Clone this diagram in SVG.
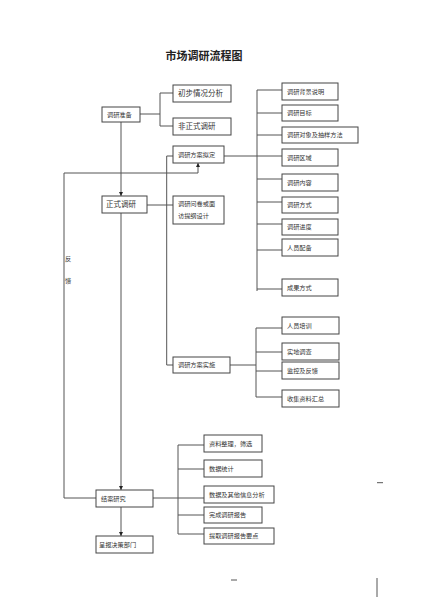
<svg xmlns="http://www.w3.org/2000/svg" width="423" height="600" viewBox="0 0 423 600">
<style>
.box{fill:#fff;stroke:#444;stroke-width:1}
.t{font-family:"Noto Sans CJK SC",sans-serif;font-size:6.2px;fill:#333}
.tl{font-family:"Noto Sans CJK SC",sans-serif;font-size:7.5px;fill:#333}
.ln{fill:none;stroke:#555;stroke-width:1}
</style>
<defs>
<marker id="ah" viewBox="0 0 8 8" refX="8" refY="4" markerWidth="4" markerHeight="4" orient="auto" markerUnits="userSpaceOnUse">
<path d="M0,0 L8,4 L0,8 Z" fill="#222"/>
</marker>
</defs>
<rect width="423" height="600" fill="#fff"/>
<text x="204" y="60" text-anchor="middle" font-family="'Noto Sans CJK SC',sans-serif" font-size="11" font-weight="bold" fill="#222">市场调研流程图</text>

<g id="connectors">
<path class="ln" d="M140,114 H160 M160,93 V126 M160,93 H173 M160,126 H173"/>
<path class="ln" d="M121,122 V196" marker-end="url(#ah)"/>
<path class="ln" d="M121,213 V490" marker-end="url(#ah)"/>
<path class="ln" d="M121,507 V536" marker-end="url(#ah)"/>
<path class="ln" d="M96,498 H64 V173 H198 V163" marker-end="url(#ah)"/>
<path class="ln" d="M147,205 H173"/>
<path class="ln" d="M173,156 H166.7 V365 H173"/>
<path class="ln" d="M224,156 H282 M257,90 V291 M257,90 H282 M257,113 H282 M257,135 H282 M257,179 H282 M257,202 H282 M257,224 H282 M257,250 H282 M257,289 H282"/>
<path class="ln" d="M230,365 H256 M256,328 V397 M256,328 H282 M256,352 H282 M256,371 H282 M256,397 H282"/>
<path class="ln" d="M153,498 H178 M178,445 V534 M178,445 H204 M178,469 H204 M178,498 H204 M178,515 H204 M178,534 H204"/>
</g>

<g id="n-zhunbei"><rect class="box" x="102" y="107" width="38" height="15"/><text class="t" x="107" y="116.8">调研准备</text></g>
<g id="n-chubu"><rect class="box" x="173" y="85" width="58" height="17"/><text class="tl" x="178" y="96.2">初步情况分析</text></g>
<g id="n-feizhengshi"><rect class="box" x="173" y="118" width="58" height="17"/><text class="tl" x="178" y="129.2">非正式调研</text></g>

<g id="n-beijing"><rect class="box" x="282" y="83" width="56" height="17"/><text class="t" x="287" y="93.8">调研背景说明</text></g>
<g id="n-mubiao"><rect class="box" x="282" y="105" width="56" height="16"/><text class="t" x="287" y="115.3">调研目标</text></g>
<g id="n-duixiang"><rect class="box" x="282" y="127" width="76" height="16"/><text class="t" x="287" y="137.3">调研对象及抽样方法</text></g>
<g id="n-quyu"><rect class="box" x="282" y="149" width="56" height="17"/><text class="t" x="287" y="159.8">调研区域</text></g>
<g id="n-neirong"><rect class="box" x="282" y="174" width="56" height="17"/><text class="t" x="287" y="184.8">调研内容</text></g>
<g id="n-fangshi"><rect class="box" x="282" y="197" width="56" height="16"/><text class="t" x="287" y="207.3">调研方式</text></g>
<g id="n-jindu"><rect class="box" x="282" y="219" width="56" height="16"/><text class="t" x="287" y="229.3">调研进度</text></g>
<g id="n-peibei"><rect class="box" x="282" y="239" width="56" height="17"/><text class="t" x="287" y="249.8">人员配备</text></g>
<g id="n-chengguo"><rect class="box" x="282" y="279" width="56" height="17"/><text class="t" x="287" y="289.8">成果方式</text></g>

<g id="n-niding"><rect class="box" x="173" y="146" width="51" height="17"/><text class="t" x="178" y="156.8">调研方案拟定</text></g>
<g id="n-zhengshi"><rect class="box" x="102" y="196" width="45" height="17"/><text class="tl" x="106" y="207.3">正式调研</text></g>
<g id="n-wenjuan"><rect class="box" x="173" y="196" width="51" height="28"/><text class="t" x="178" y="206">调研问卷或面</text><text class="t" x="178" y="218">访提纲设计</text></g>

<g id="n-shishi"><rect class="box" x="173" y="357" width="57" height="16"/><text class="t" x="178" y="367.3">调研方案实施</text></g>
<g id="n-peixun"><rect class="box" x="282" y="317" width="57" height="17"/><text class="t" x="287" y="327.8">人员培训</text></g>
<g id="n-diaocha"><rect class="box" x="282" y="343" width="57" height="17"/><text class="t" x="287" y="353.8">实地调查</text></g>
<g id="n-jiankong"><rect class="box" x="282" y="362" width="57" height="17"/><text class="t" x="287" y="372.8">监控及反馈</text></g>
<g id="n-huizong"><rect class="box" x="282" y="390" width="57" height="17"/><text class="t" x="287" y="400.8">收集资料汇总</text></g>

<g id="n-jiean"><rect class="box" x="96" y="490" width="57" height="17"/><text class="t" x="101" y="500.8">结案研究</text></g>
<g id="n-chengbao"><rect class="box" x="96" y="536" width="57" height="17"/><text class="t" x="99" y="546.8">呈报决策部门</text></g>
<g id="n-zhengli"><rect class="box" x="204" y="435" width="58" height="17"/><text class="t" x="209" y="445.8">资料整理，筛选</text></g>
<g id="n-tongji"><rect class="box" x="204" y="460" width="58" height="17"/><text class="t" x="209" y="470.8">数据统计</text></g>
<g id="n-fenxi"><rect class="box" x="204" y="486" width="70" height="17"/><text class="t" x="209" y="496.8">数据及其他信息分析</text></g>
<g id="n-baogao"><rect class="box" x="204" y="507" width="58" height="16"/><text class="t" x="209" y="517.3">完成调研报告</text></g>
<g id="n-yaodian"><rect class="box" x="204" y="528" width="70" height="16"/><text class="t" x="209" y="538.3">提取调研报告要点</text></g>

<g id="feedback-label">
<text class="t" x="65" y="261">反</text>
<text class="t" x="65" y="283">馈</text>
</g>
<g id="marks">
<path class="ln" d="M231,580 H237 M377,578 V597 M377,482.7 H383"/>
</g>
</svg>
